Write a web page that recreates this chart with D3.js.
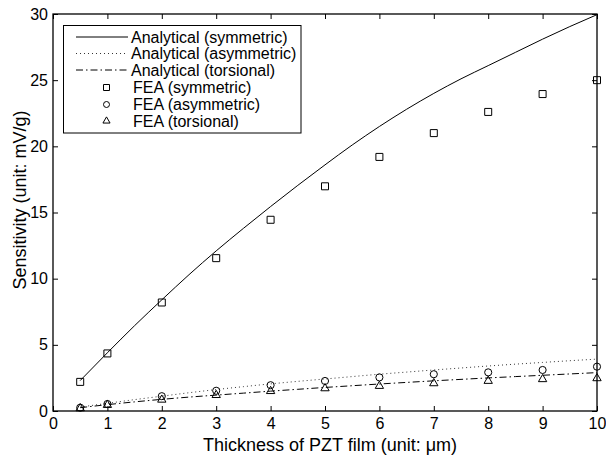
<!DOCTYPE html>
<html><head><meta charset="utf-8">
<script src="https://cdn.jsdelivr.net/npm/d3@7"></script>
<style>body{margin:0;background:#fff;}svg{display:block;font-family:"Liberation Sans",Arial,sans-serif;}</style>
</head><body>
<svg id="c" width="606" height="457"></svg>
<script>
const xCurve = [0.5,1,1.5,2,2.5,3,3.5,4,4.5,5,5.5,6,6.5,7,7.5,8,8.5,9,9.5,10];
const anaSym = [2.3,4.4,6.45,8.4,10.3,12.1,13.8,15.45,17.05,18.6,20.1,21.5,22.8,24.0,25.1,26.1,27.1,28.1,29.05,29.95];
const anaAsym = [0.3,0.58,0.86,1.12,1.38,1.62,1.84,2.05,2.24,2.42,2.6,2.78,2.94,3.1,3.25,3.4,3.54,3.67,3.8,3.92];
const anaTor = [0.25,0.48,0.69,0.88,1.05,1.2,1.35,1.5,1.64,1.78,1.91,2.04,2.16,2.28,2.39,2.5,2.6,2.7,2.8,2.9];
const xFea = [0.5,1,2,3,4,5,6,7,8,9,10];
const feaSym = [2.2,4.35,8.2,11.55,14.45,16.98,19.2,21.0,22.6,23.95,25.0];
const feaAsym = [0.25,0.53,1.12,1.53,1.95,2.27,2.54,2.78,2.92,3.1,3.35];
const feaTor = [0.2,0.45,0.85,1.2,1.5,1.71,1.89,2.09,2.27,2.4,2.47];
const xTicks = [0,1,2,3,4,5,6,7,8,9,10];
const yTicks = [0,5,10,15,20,25,30];
const legendLabels = ["Analytical (symmetric)","Analytical (asymmetric)","Analytical (torsional)","FEA (symmetric)","FEA (asymmetric)","FEA (torsional)"];

const svg = d3.select("#c");
const L=53, R=597, T=14, B=411;
const x = d3.scaleLinear().domain([0,10]).range([L,R]);
const y = d3.scaleLinear().domain([0,30]).range([B,T]);
const FF = "Liberation Sans, Arial, sans-serif";

const fs = "16px";
const gx = svg.append("g").attr("transform",`translate(0,${B})`)
  .call(d3.axisBottom(x).tickValues(xTicks).tickSize(-5).tickPadding(7));
const gxt = svg.append("g").attr("transform",`translate(0,${T})`)
  .call(d3.axisTop(x).tickValues(xTicks).tickSize(-5).tickFormat(""));
const gy = svg.append("g").attr("transform",`translate(${L},0)`)
  .call(d3.axisLeft(y).tickValues(yTicks).tickSize(-5).tickPadding(5));
const gyr = svg.append("g").attr("transform",`translate(${R},0)`)
  .call(d3.axisRight(y).tickValues(yTicks).tickSize(-5).tickFormat(""));
[gx,gxt,gy,gyr].forEach(g=>{
  g.select(".domain").remove();
  g.selectAll("line").attr("stroke","#000");
  g.selectAll("text").attr("font-size",fs).attr("fill","#000").attr("font-family",FF);
});
// frame
svg.append("rect").attr("x",L).attr("y",T).attr("width",R-L).attr("height",B-T)
  .attr("fill","none").attr("stroke","#000").attr("stroke-width",1.3);

// axis titles
svg.append("text").attr("x",330).attr("y",451).attr("text-anchor","middle")
  .attr("font-size","18px").text("Thickness of PZT film (unit: μm)");
svg.append("text").attr("transform",`translate(26,200) rotate(-90)`).attr("text-anchor","middle")
  .attr("font-size","18px").text("Sensitivity (unit: mV/g)");

const line = d3.line().x((d,i)=>x(xCurve[i])).y(d=>y(d)).curve(d3.curveMonotoneX);
svg.append("path").datum(anaSym).attr("d",line).attr("fill","none").attr("stroke","#000").attr("stroke-width",1);
svg.append("path").datum(anaAsym).attr("d",line).attr("fill","none").attr("stroke","#000").attr("stroke-width",0.8).attr("stroke-dasharray","1,3");
svg.append("path").datum(anaTor).attr("d",line).attr("fill","none").attr("stroke","#000").attr("stroke-width",1).attr("stroke-dasharray","7,3,1.5,3");

const sq = d3.symbol().type(d3.symbolSquare).size(49);
const ci = d3.symbol().type(d3.symbolCircle).size(40);
const tr = d3.symbol().type(d3.symbolTriangle).size(30);
function markers(vals, sym, cls){
  svg.selectAll("path."+cls).data(vals).join("path").attr("class",cls)
    .attr("transform",(d,i)=>`translate(${x(xFea[i])},${y(d)})`)
    .attr("d",sym).attr("fill","none").attr("stroke","#000").attr("stroke-width",1);
}
markers(feaSym, sq, "s");
markers(feaAsym, ci, "c");
markers(feaTor, tr, "t");

// legend
const lg = svg.append("g");
lg.append("rect").attr("x",63.5).attr("y",25.5).attr("width",237.5).attr("height",107.5)
  .attr("fill","#fff").attr("stroke","#000").attr("stroke-width",1);
const rowY = [37,53.5,70,87.5,104.5,121];
const styles = [null,"1,3","7,3,1.5,3"];
const lsq = d3.symbol().type(d3.symbolSquare).size(36);
const lci = d3.symbol().type(d3.symbolCircle).size(28);
const ltr = d3.symbol().type(d3.symbolTriangle).size(22);
legendLabels.forEach((lab,i)=>{
  const yy = rowY[i];
  if(i<3){
    const ln = lg.append("line").attr("x1",76).attr("x2",128).attr("y1",yy).attr("y2",yy)
      .attr("stroke","#000").attr("stroke-width",i==1?0.8:1);
    if(styles[i]) ln.attr("stroke-dasharray",styles[i]);
    lg.append("text").attr("x",131).attr("y",yy+5.7).attr("font-size","16px").text(lab);
  } else {
    const sym = [lsq,lci,ltr][i-3];
    lg.append("path").attr("transform",`translate(106.5,${yy})`).attr("d",sym)
      .attr("fill","none").attr("stroke","#000").attr("stroke-width",1);
    lg.append("text").attr("x",133).attr("y",yy+5.7).attr("font-size","16px").text(lab);
  }
});
</script>
</body></html>
